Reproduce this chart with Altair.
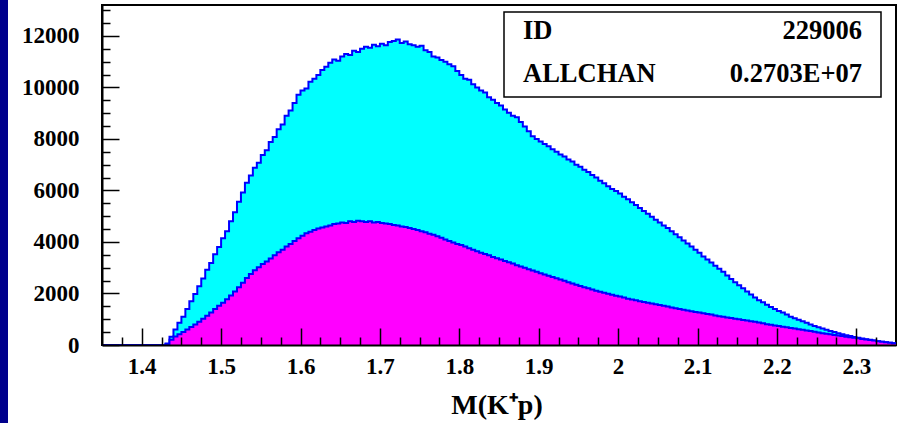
import altair as alt
import pandas as pd

# ---------------- data ----------------
X_START = 1.35
BIN_WIDTH = 0.005
N_ZERO_BINS = 16  # bins 1.350 .. 1.425 are empty

# total (cyan) histogram, bins from 1.430 to 2.345
cyan_counts = [
    60, 320, 600, 860, 1100, 1400, 1700, 1980, 2280, 2580,
    2920, 3180, 3520, 3800, 4140, 4420, 4800, 5150, 5560, 5920,
    6300, 6580, 6880, 7080, 7380, 7560, 7880, 8080, 8380, 8560,
    8900, 9100, 9400, 9720, 9880, 9960, 10220, 10340, 10480, 10680,
    10800, 10960, 11080, 11040, 11200, 11300, 11260, 11420, 11380, 11500,
    11580, 11540, 11660, 11600, 11700, 11640, 11760, 11800, 11860, 11720,
    11780, 11680, 11640, 11580, 11620, 11440, 11380, 11200, 11160, 11060,
    11000, 10900, 10820, 10640, 10480, 10340, 10300, 10120, 10000, 9880,
    9800, 9620, 9520, 9400, 9300, 9140, 9020, 8900, 8840, 8660,
    8480, 8300, 8100, 8000, 7900, 7800, 7720, 7600, 7500, 7400,
    7320, 7200, 7120, 7000, 6920, 6800, 6720, 6600, 6500, 6380,
    6280, 6160, 6060, 5980, 5880, 5760, 5660, 5540, 5440, 5320,
    5200, 5100, 4980, 4860, 4760, 4640, 4540, 4420, 4300, 4180,
    4060, 3940, 3820, 3700, 3580, 3440, 3320, 3200, 3080, 2960,
    2840, 2700, 2560, 2440, 2320, 2200, 2080, 1960, 1840, 1740,
    1660, 1560, 1480, 1400, 1320, 1260, 1180, 1100, 1040, 980,
    920, 860, 800, 740, 690, 640, 590, 540, 500, 460,
    420, 380, 350, 310, 280, 250, 220, 200, 170, 150,
    130, 110, 90, 70,
]

# selected (magenta) histogram, bins from 1.430 to 2.345
magenta_counts = [
    40, 200, 330, 420, 500, 600, 700, 800, 900, 1020,
    1140, 1260, 1400, 1520, 1640, 1780, 1920, 2080, 2240, 2420,
    2600, 2760, 2900, 3020, 3140, 3240, 3360, 3480, 3600, 3700,
    3820, 3920, 4040, 4140, 4240, 4340, 4400, 4460, 4520, 4560,
    4600, 4640, 4700, 4720, 4760, 4740, 4800, 4780, 4820, 4800,
    4780, 4800, 4760, 4780, 4740, 4720, 4700, 4660, 4640, 4600,
    4580, 4540, 4500, 4460, 4420, 4380, 4320, 4280, 4220, 4160,
    4100, 4040, 3980, 3920, 3880, 3820, 3760, 3700, 3640, 3580,
    3530, 3480, 3420, 3370, 3320, 3260, 3210, 3160, 3100, 3050,
    3000, 2940, 2890, 2840, 2790, 2740, 2690, 2640, 2590, 2540,
    2490, 2440, 2390, 2340, 2290, 2240, 2200, 2150, 2110, 2070,
    2030, 1990, 1950, 1910, 1880, 1840, 1800, 1770, 1740, 1700,
    1670, 1640, 1610, 1580, 1550, 1520, 1490, 1460, 1430, 1400,
    1370, 1340, 1310, 1280, 1260, 1230, 1200, 1180, 1150, 1120,
    1100, 1070, 1050, 1020, 1000, 970, 950, 920, 900, 870,
    840, 810, 790, 760, 740, 710, 690, 660, 640, 610,
    590, 560, 540, 510, 490, 460, 440, 420, 390, 370,
    350, 320, 300, 280, 260, 230, 210, 190, 170, 150,
    130, 110, 90, 70,
]

x_major_ticks = [1.4, 1.5, 1.6, 1.7, 1.8, 1.9, 2.0, 2.1, 2.2, 2.3]
x_minor_ticks = [1.375, 1.425, 1.45, 1.475, 1.525, 1.55, 1.575, 1.625, 1.65, 1.675,
                 1.725, 1.75, 1.775, 1.825, 1.85, 1.875, 1.925, 1.95, 1.975,
                 2.025, 2.05, 2.075, 2.125, 2.15, 2.175, 2.225, 2.25, 2.275, 2.325]
y_major_ticks = [0, 2000, 4000, 6000, 8000, 10000, 12000]
y_minor_ticks = [500, 1000, 1500, 2500, 3000, 3500, 4500, 5000, 5500, 6500, 7000, 7500,
                 8500, 9000, 9500, 10500, 11000, 11500, 12500, 13000]

stat_labels = ["ID", "ALLCHAN"]
stat_values = ["229006", "0.2703E+07"]
x_title = "M(K\u207ap)"

# ---------------- build ----------------
X_DOMAIN = [1.35, 2.35]
Y_DOMAIN = [0, 13200]
W, H = 794, 340
MAJOR_LEN, MINOR_LEN = 17, 8  # px


def hist_frame(counts):
    values = [0] * N_ZERO_BINS + counts
    edges = [round(X_START + i * BIN_WIDTH, 4) for i in range(len(values) + 1)]
    return pd.DataFrame({"m": edges, "n": values + [values[-1]]})


cyan_df = hist_frame(cyan_counts)
mag_df = hist_frame(magenta_counts)

FONT = "Liberation Serif"
xs = alt.Scale(domain=X_DOMAIN, nice=False, zero=False)
ys = alt.Scale(domain=Y_DOMAIN, nice=False, zero=False)

# label axes (left / bottom), no ticks
x_axis = alt.Axis(values=x_major_ticks, format="~g", ticks=False, grid=False,
                  domainColor="black", domainWidth=2, labelFont=FONT,
                  labelFontWeight="bold", labelFontSize=23, labelColor="black",
                  labelPadding=10, title=None, zindex=1, labelFlush=False)
y_axis = alt.Axis(values=y_major_ticks, format="d", ticks=False, grid=False,
                  domainColor="black", domainWidth=2, labelFont=FONT,
                  labelFontWeight="bold", labelFontSize=23, labelColor="black",
                  labelPadding=23, title=None, zindex=1)

# tick axes: opposite orient, moved onto the left / bottom edge so ticks point inward
x_tick_axis = alt.Axis(orient="top", offset=-H, values=x_major_ticks + x_minor_ticks,
                       labels=False, domain=False, grid=False, title=None, ticks=True,
                       tickColor="black", tickWidth=1.5, zindex=1,
                       tickSize={"condition": {"test": "abs(datum.value * 10 - round(datum.value * 10)) < 0.001",
                                               "value": MAJOR_LEN}, "value": MINOR_LEN})
y_tick_axis = alt.Axis(orient="right", offset=-W, values=y_major_ticks + y_minor_ticks,
                       labels=False, domain=False, grid=False, title=None, ticks=True,
                       tickColor="black", tickWidth=1.5, zindex=1,
                       tickSize={"condition": {"test": "datum.value % 2000 === 0",
                                               "value": MAJOR_LEN}, "value": MINOR_LEN})

cyan_area = alt.Chart(cyan_df).mark_area(interpolate="step-after", color="#00FFFF").encode(
    x=alt.X("m:Q", scale=xs, axis=x_axis),
    y=alt.Y("n:Q", scale=ys, axis=y_axis),
)
cyan_line = alt.Chart(cyan_df).mark_line(interpolate="step-after", color="#0000FF", strokeWidth=2).encode(
    x=alt.X("m:Q", scale=xs, axis=x_tick_axis), y=alt.Y("n:Q", scale=ys, axis=y_tick_axis)
)
mag_area = alt.Chart(mag_df).mark_area(interpolate="step-after", color="#FF00FF").encode(
    x=alt.X("m:Q", scale=xs, axis=None), y=alt.Y("n:Q", scale=ys, axis=None)
)
mag_line = alt.Chart(mag_df).mark_line(interpolate="step-after", color="#0000FF", strokeWidth=2).encode(
    x=alt.X("m:Q", scale=xs, axis=None), y=alt.Y("n:Q", scale=ys, axis=None)
)

one = pd.DataFrame({"k": [0]})
stat_box = alt.Chart(one).mark_rect(fill="white", stroke="black", strokeWidth=1.5).encode(
    x=alt.value(402), x2=alt.value(779), y=alt.value(7), y2=alt.value(92))

txt_common = dict(font=FONT, fontWeight="bold", fontSize=26.5, color="black", baseline="alphabetic")


def stat_text(text, xpos, ypos, align):
    return alt.Chart(pd.DataFrame({"s": [text]})).mark_text(align=align, **txt_common).encode(
        x=alt.value(xpos), y=alt.value(ypos), text="s:N")


stat_layers = [
    stat_text(stat_labels[0], 421, 34, "left"),
    stat_text(stat_values[0], 760, 34, "right"),
    stat_text(stat_labels[1], 421, 77, "left"),
    stat_text(stat_values[1], 760, 77, "right"),
]

title_txt = alt.Chart(pd.DataFrame({"t": [x_title]})).mark_text(
    align="center", font=FONT, fontWeight="bold", fontSize=28, color="black", baseline="alphabetic"
).encode(x=alt.value(395), y=alt.value(409), text="t:N")

strip = alt.Chart(one).mark_rect(fill="#00008C").encode(
    x=alt.value(-102), x2=alt.value(-94), y=alt.value(-5), y2=alt.value(418))

chart = alt.layer(
    cyan_area, cyan_line, mag_area, mag_line,
    stat_box, *stat_layers, title_txt, strip,
).resolve_axis(x="independent", y="independent").properties(
    width=W, height=H,
    autosize=alt.AutoSizeParams(type="none"),
    padding={"left": 102, "top": 5, "right": 1, "bottom": 78},
    background="white",
).configure_view(stroke="black", strokeWidth=2)

chart.save("out.html", embed_options={"renderer": "svg", "actions": False})
